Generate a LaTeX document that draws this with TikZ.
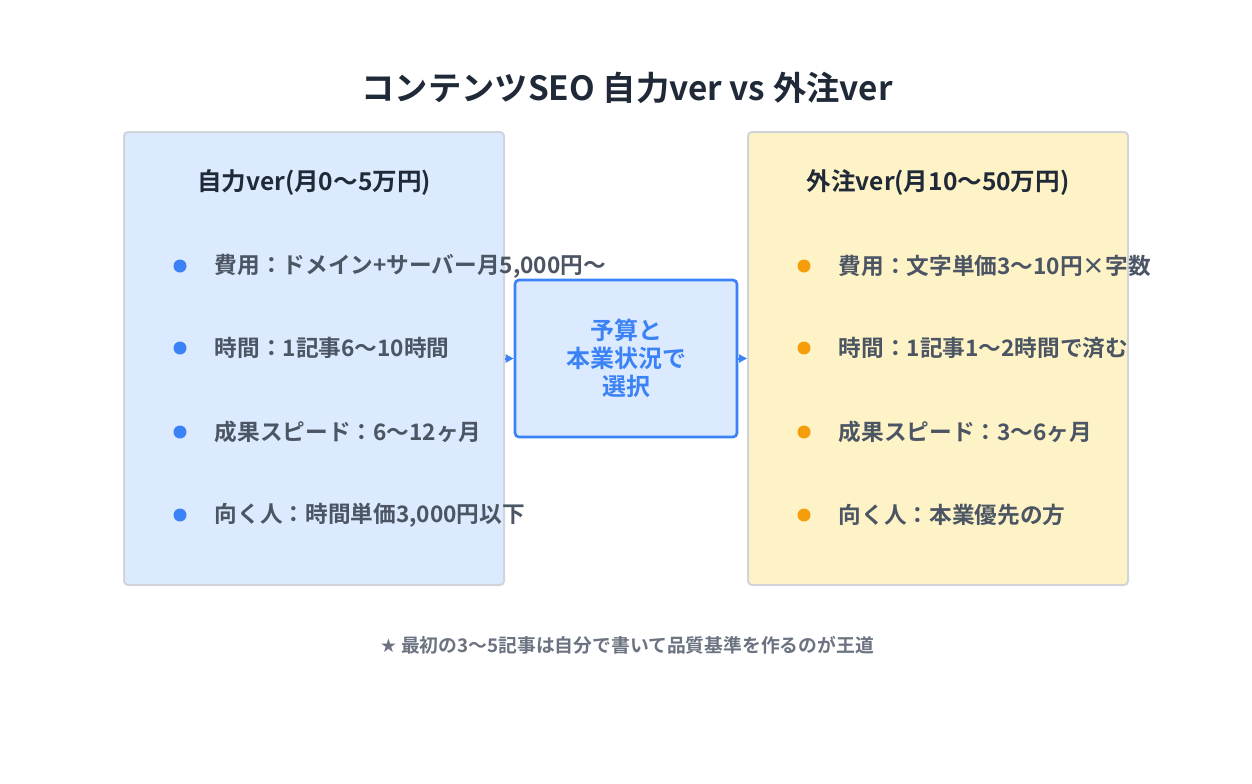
\documentclass[tikz,border=0pt]{standalone}
\usepackage{fontspec}
\setmainfont{Noto Sans CJK JP}[BoldFont={* Bold}]
\usetikzlibrary{arrows.meta}
\definecolor{tcol}{HTML}{1F2937}
\definecolor{icol}{HTML}{4B5563}
\definecolor{fcol}{HTML}{6B7280}
\definecolor{bl}{HTML}{DBEAFE}
\definecolor{yl}{HTML}{FEF3C7}
\definecolor{bd}{HTML}{D1D5DB}
\definecolor{blue}{HTML}{3B82F6}
\definecolor{org}{HTML}{F59E0B}
\tikzset{
 panel/.style={draw=bd,line width=1.5pt,rounded corners=3pt},
 item/.style={anchor=west,text=icol,font=\fontsize{17}{20}\selectfont\bfseries},
 ptitle/.style={text=tcol,font=\fontsize{18.4}{22}\selectfont\bfseries},
 arr/.style={-{Triangle[length=6pt,width=6pt]},blue,line width=1.5pt}
}
\begin{document}
\begin{tikzpicture}[x=0.75pt,y=-0.75pt]
\useasboundingbox (0,0) rectangle (1252,783);
\node[text=tcol,font=\fontsize{25}{30}\selectfont\bfseries] (title) at (627,88) {コンテンツSEO 自力ver vs 外注ver};
\node[panel,fill=bl,minimum width=380*0.75pt,minimum height=453*0.75pt,inner sep=0] (L) at (314,358.5) {};
\node[panel,fill=yl,minimum width=380*0.75pt,minimum height=453*0.75pt,inner sep=0] (R) at (938,358.5) {};
\node[ptitle] (lt) at (314,183) {自力ver(月0〜5万円)};
\node[ptitle] (rt) at (938,183) {外注ver(月10〜50万円)};
\foreach \y/\t [count=\i] in {266/{費用：ドメイン+サーバー月5,000円〜},348/{時間：1記事6〜10時間},432/{成果スピード：6〜12ヶ月},515/{向く人：時間単価3,000円以下}}{
 \fill[blue] (180,\y) circle (6.5);
 \node[item] (l\i) at (210,\y) {\t};
}
\foreach \y/\t [count=\i] in {266/{費用：文字単価3〜10円×字数},348/{時間：1記事1〜2時間で済む},432/{成果スピード：3〜6ヶ月},515/{向く人：本業優先の方}}{
 \fill[org] (804,\y) circle (6.5);
 \node[item] (r\i) at (834,\y) {\t};
}
\node[draw=blue,line width=2pt,fill=bl,rounded corners=3pt,minimum width=222*0.75pt,minimum height=157*0.75pt,align=center,text=blue,font=\fontsize{18}{21}\selectfont\bfseries] (M) at (626,358.5) {予算と\\本業状況で\\選択};
\draw[arr] (L.east) -- (M.west);
\draw[arr] (M.east) -- (R.west);
\node[text=fcol,font=\fontsize{14.1}{17}\selectfont\bfseries] (foot) at (627,645) {{\fontspec{DejaVu Sans}★} 最初の3〜5記事は自分で書いて品質基準を作るのが王道};
\end{tikzpicture}
\end{document}
